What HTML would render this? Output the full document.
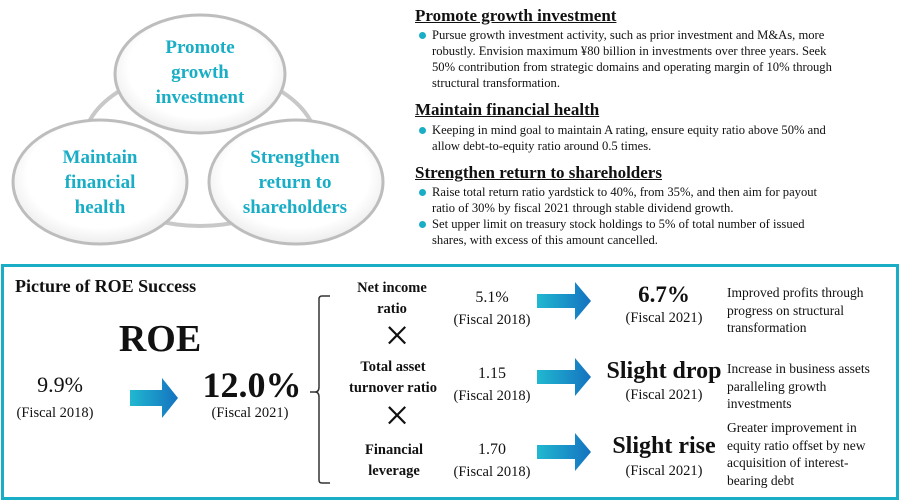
<!DOCTYPE html>
<html><head><meta charset="utf-8">
<style>
body{margin:0;width:900px;height:500px;background:#fff;position:relative;overflow:hidden;font-family:"Liberation Serif",serif;color:#111}
.a{position:absolute;white-space:nowrap}
.t{color:#1aaec6;font-weight:bold;font-size:19px;text-align:center;line-height:25px}
h3{margin:0;position:absolute;left:415px;font-size:17px;font-weight:bold;text-decoration:underline;white-space:nowrap}
.b{position:absolute;left:432px;font-size:12.6px;line-height:16px;white-space:nowrap}
.dot{position:absolute;left:419px;width:7px;height:7px;border-radius:50%;background:#1aaec6}
.c{text-align:center;transform:translateX(-50%)}
.lab{font-weight:bold;font-size:14.5px;line-height:21px}
.f{font-size:14.5px;line-height:20px}
.d{font-size:13.5px;line-height:17.5px}
.x{font-size:44px;font-weight:100;line-height:44px}
</style></head><body>
<svg class="a" style="left:0;top:0" width="400" height="260">
<defs><radialGradient id="g" cx="50%" cy="45%" r="60%"><stop offset="70%" stop-color="#fff"/><stop offset="100%" stop-color="#e6e6e6"/></radialGradient></defs>
<ellipse cx="200" cy="148" rx="118" ry="78" fill="none" stroke="#c8c8c8" stroke-width="4"/>
<ellipse cx="200" cy="74" rx="85" ry="59" fill="url(#g)" stroke="#bdbdbd" stroke-width="3"/>
<ellipse cx="100" cy="182" rx="87" ry="62" fill="url(#g)" stroke="#bdbdbd" stroke-width="3"/>
<ellipse cx="296" cy="182" rx="87" ry="62" fill="url(#g)" stroke="#bdbdbd" stroke-width="3"/>
</svg>
<div class="a t" style="left:140px;top:35px;width:120px">Promote<br>growth<br>investment</div>
<div class="a t" style="left:40px;top:145px;width:120px">Maintain<br>financial<br>health</div>
<div class="a t" style="left:225px;top:145px;width:140px">Strengthen<br>return to<br>shareholders</div>

<h3 style="top:6px">Promote growth investment</h3>
<div class="dot" style="top:32px"></div>
<div class="b" style="top:27px">Pursue growth investment activity, such as prior investment and M&amp;As, more<br>robustly. Envision maximum ¥80 billion in investments over three years. Seek<br>50% contribution from strategic domains and operating margin of 10% through<br>structural transformation.</div>
<h3 style="top:100px">Maintain financial health</h3>
<div class="dot" style="top:127px"></div>
<div class="b" style="top:122px">Keeping in mind goal to maintain A rating, ensure equity ratio above 50% and<br>allow debt-to-equity ratio around 0.5 times.</div>
<h3 style="top:163px">Strengthen return to shareholders</h3>
<div class="dot" style="top:189px"></div>
<div class="b" style="top:184px">Raise total return ratio yardstick to 40%, from 35%, and then aim for payout<br>ratio of 30% by fiscal 2021 through stable dividend growth.</div>
<div class="dot" style="top:221px"></div>
<div class="b" style="top:216px">Set upper limit on treasury stock holdings to 5% of total number of issued<br>shares, with excess of this amount cancelled.</div>

<div class="a" style="left:1px;top:264px;width:892px;height:230px;border:3px solid #1aaec6"></div>
<div class="a" style="left:15px;top:276px;font-size:18px;font-weight:bold">Picture of ROE Success</div>
<div class="a c" style="left:160px;top:317px;font-size:38px;font-weight:bold">ROE</div>
<div class="a c" style="left:60px;top:372px;font-size:22px">9.9%</div>
<div class="a c f" style="left:55px;top:403px">(Fiscal 2018)</div>
<div class="a c" style="left:252px;top:364px;font-size:36px;font-weight:bold">12.0%</div>
<div class="a c f" style="left:250px;top:403px">(Fiscal 2021)</div>
<svg class="a" style="left:0;top:264px" width="900" height="236">
<defs><linearGradient id="ar2" x1="0" x2="1"><stop offset="0" stop-color="#20b8d0"/><stop offset="1" stop-color="#1572c0"/></linearGradient></defs>
<path d="M130 126h32v-12l16 20-16 20v-12h-32z" fill="url(#ar2)"/>
<path d="M537 30h38v-12l16 19-16 19v-12h-38z" fill="url(#ar2)"/>
<path d="M537 106h38v-12l16 19-16 19v-12h-38z" fill="url(#ar2)"/>
<path d="M537 181h38v-12l16 19-16 19v-12h-38z" fill="url(#ar2)"/>
<path d="M330 32h-8q-3 0-3 3v88q0 5-4 5h-5M315 128q4 0 4 5v83q0 3 3 3h8" fill="none" stroke="#333" stroke-width="1.5"/>
</svg>
<div class="a c lab" style="left:392px;top:278px">Net income<br>ratio</div>
<div class="a c x" style="left:397px;top:314px">×</div>
<div class="a c lab" style="left:393px;top:357px">Total asset<br>turnover ratio</div>
<div class="a c x" style="left:397px;top:394px">×</div>
<div class="a c lab" style="left:394px;top:440px">Financial<br>leverage</div>

<div class="a c f" style="left:492px;top:287px;font-size:16px;line-height:22px">5.1%<br><span style="font-size:14.5px">(Fiscal 2018)</span></div>
<div class="a c f" style="left:492px;top:363px;font-size:16px;line-height:22px">1.15<br><span style="font-size:14.5px">(Fiscal 2018)</span></div>
<div class="a c f" style="left:492px;top:439px;font-size:16px;line-height:22px">1.70<br><span style="font-size:14.5px">(Fiscal 2018)</span></div>

<div class="a c" style="left:664px;top:282px;font-size:23px;font-weight:bold">6.7%</div>
<div class="a c f" style="left:664px;top:308px">(Fiscal 2021)</div>
<div class="a c" style="left:664px;top:358px;font-size:24px;font-weight:bold">Slight drop</div>
<div class="a c f" style="left:664px;top:385px">(Fiscal 2021)</div>
<div class="a c" style="left:664px;top:433px;font-size:24px;font-weight:bold">Slight rise</div>
<div class="a c f" style="left:664px;top:461px">(Fiscal 2021)</div>

<div class="a d" style="left:727px;top:284px">Improved profits through<br>progress on structural<br>transformation</div>
<div class="a d" style="left:727px;top:360px">Increase in business assets<br>paralleling growth<br>investments</div>
<div class="a d" style="left:727px;top:419px">Greater improvement in<br>equity ratio offset by new<br>acquisition of interest-<br>bearing debt</div>
</body></html>
